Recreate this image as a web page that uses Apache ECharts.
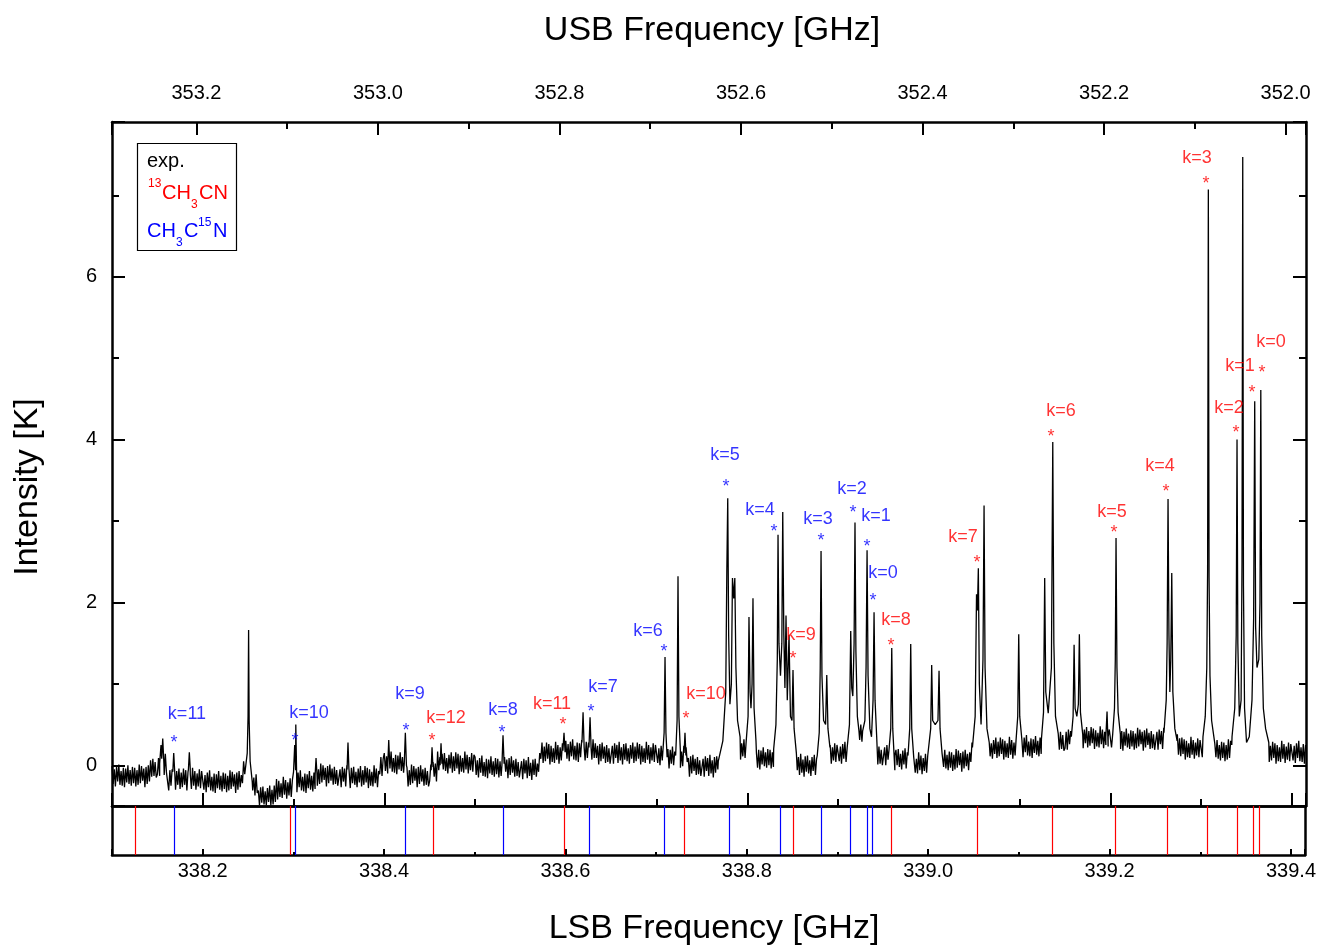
<!DOCTYPE html>
<html><head><meta charset="utf-8">
<script src="https://cdn.jsdelivr.net/npm/echarts@6/dist/echarts.min.js"></script>
<style>html,body{margin:0;padding:0;background:#fff}#c{width:1319px;height:950px}</style>
</head><body><div id="c"></div>
<script>
const LSB_MIN = 338.1, LSB_MAX = 339.4155;
const USB_SUM = 691.393; // USB = USB_SUM - LSB
const Y_MIN = -0.5, Y_MAX = 7.9;

// baseline (noise) spectrum on a uniform grid: start 338.100 GHz, step 0.00125 GHz, 40 values per row (0.05 GHz)
const gridStart = 338.1, gridStep = 0.00125;
const baselineRows = [
 [-0.01,-0.23,-0.05,-0.26,-0.02,-0.20,0.01,-0.24,-0.07,-0.25,-0.03,-0.27,-0.04,-0.21,0.00,-0.23,-0.06,-0.25,-0.02,-0.22,-0.03,-0.26,-0.06,-0.24,0.01,-0.22,-0.01,-0.19,-0.04,-0.27,-0.02,-0.23,0.00,-0.20,0.06,-0.14,0.08,-0.13,0.04,-0.15],
 [-0.11,0.09,-0.13,0.12,-0.06,0.10,-0.12,0.14,-0.09,-0.10,-0.31,-0.06,-0.25,-0.05,-0.27,-0.11,-0.30,-0.07,-0.24,-0.04,-0.29,-0.09,-0.27,-0.04,-0.24,-0.06,-0.31,-0.08,-0.28,-0.11,-0.29,-0.03,-0.25,-0.07,-0.30,-0.10,-0.26,-0.05,-0.28,-0.07],
 [-0.08,-0.30,-0.12,-0.33,-0.09,-0.27,-0.06,-0.31,-0.14,-0.32,-0.10,-0.34,-0.11,-0.28,-0.07,-0.30,-0.13,-0.32,-0.09,-0.29,-0.10,-0.33,-0.13,-0.31,-0.06,-0.29,-0.08,-0.26,-0.11,-0.34,-0.09,-0.30,-0.07,-0.27,-0.12,-0.22,0.05,-0.11,0.5,0.5],
 [0.5,0.5,0.5,0.5,-0.31,-0.15,-0.37,-0.11,-0.34,-0.31,-0.49,-0.27,-0.46,-0.26,-0.48,-0.32,-0.49,-0.28,-0.45,-0.25,-0.49,-0.30,-0.48,-0.25,-0.45,-0.17,-0.42,-0.19,-0.39,-0.22,-0.40,-0.14,-0.36,-0.18,-0.41,-0.21,-0.37,-0.16,-0.39,-0.18],
 [-0.08,0.5,0.5,-0.33,-0.09,-0.27,-0.06,-0.31,-0.14,-0.32,-0.10,-0.34,-0.11,-0.28,-0.07,-0.30,-0.13,-0.32,-0.09,-0.29,0.5,-0.25,-0.05,-0.23,0.02,-0.21,0.00,-0.18,-0.03,-0.26,-0.01,-0.22,0.01,-0.19,-0.04,-0.24,-0.02,-0.23,-0.06,-0.25],
 [-0.25,-0.05,-0.27,-0.02,-0.20,-0.04,-0.26,0.00,0.5,-0.07,-0.28,-0.03,-0.22,-0.02,-0.24,-0.08,-0.27,-0.04,-0.21,-0.01,-0.26,-0.06,-0.24,-0.01,-0.21,-0.03,-0.28,-0.05,-0.25,-0.08,-0.26,0.00,-0.22,-0.04,-0.27,-0.07,-0.11,0.10,-0.13,0.08],
 [0.15,-0.07,0.11,-0.10,0.5,-0.04,0.17,-0.08,0.09,-0.09,0.13,-0.11,0.12,-0.05,0.16,-0.07,0.10,-0.09,0.5,0.5,-0.03,-0.26,-0.06,-0.24,0.01,-0.22,-0.01,-0.19,-0.04,-0.27,-0.02,-0.23,0.00,-0.20,-0.05,-0.25,-0.03,-0.24,-0.07,-0.26],
 [-0.19,0.01,0.5,0.04,-0.14,0.02,-0.20,0.17,-0.06,0.10,0.5,0.14,-0.05,0.15,-0.07,0.09,-0.10,0.13,-0.04,0.16,-0.09,0.11,-0.07,0.16,-0.04,0.14,-0.11,0.12,-0.08,0.09,-0.09,0.17,-0.05,0.13,-0.10,0.10,-0.06,0.15,-0.08,0.13],
 [0.10,-0.12,0.06,-0.15,0.09,-0.09,0.12,-0.13,0.04,-0.14,0.08,-0.16,0.07,-0.10,0.11,-0.12,0.05,-0.14,0.09,-0.11,0.08,-0.15,0.05,-0.13,0.5,0.5,0.10,-0.08,0.07,-0.16,0.09,-0.12,0.11,-0.09,0.06,-0.14,0.08,-0.13,0.04,-0.15],
 [-0.15,0.05,-0.17,0.08,-0.10,0.06,-0.16,0.10,-0.13,0.03,-0.18,0.07,-0.12,0.08,-0.14,0.02,-0.08,0.15,0.08,0.28,0.03,0.23,0.05,0.28,0.08,0.26,0.01,0.24,0.04,0.21,0.03,0.29,0.07,0.25,0.02,0.22,0.06,0.27,0.5,0.5],
 [0.30,0.08,0.26,0.05,0.29,0.11,0.32,0.07,0.24,0.06,0.28,0.04,0.27,0.10,0.31,0.5,0.5,0.06,0.29,0.09,0.28,0.5,0.5,0.07,0.32,0.09,0.27,0.09,0.24,0.01,0.26,0.05,0.28,0.08,0.23,0.03,0.25,0.04,0.21,0.02],
 [0.04,0.24,0.02,0.27,0.09,0.25,0.03,0.29,0.06,0.22,0.01,0.26,0.07,0.27,0.05,0.21,0.02,0.25,0.08,0.28,0.03,0.23,0.05,0.28,0.08,0.26,0.01,0.24,0.04,0.21,0.03,0.29,0.07,0.25,0.02,0.22,0.06,0.27,0.04,0.25],
 [0.25,0.03,0.21,0.00,0.24,0.06,0.5,0.5,0.5,0.5,0.20,-0.04,0.19,0.02,0.23,0.00,0.17,0.5,0.5,0.5,0.5,-0.03,0.17,-0.01,0.24,0.5,0.22,0.04,0.09,-0.14,0.11,-0.10,0.13,-0.07,0.08,-0.12,0.10,-0.11,0.06,-0.13],
 [-0.12,0.08,-0.14,0.11,-0.07,0.09,-0.13,0.13,-0.10,0.06,-0.15,0.10,-0.09,0.11,-0.05,0.5,0.5,0.5,0.5,0.5,0.5,0.5,0.5,0.5,0.5,0.5,0.5,0.5,0.5,0.5,0.5,0.5,0.5,0.5,0.07,0.27,0.11,0.32,0.09,0.30],
 [0.5,0.5,0.5,0.5,0.5,0.5,0.5,0.5,0.15,-0.03,0.19,-0.05,0.18,0.01,0.22,-0.01,0.16,-0.03,0.20,0.00,0.19,-0.04,0.16,-0.02,0.5,0.5,0.5,0.5,0.5,0.5,0.5,0.5,0.5,0.5,0.5,0.5,0.5,0.5,0.5,0.5],
 [0.5,0.5,0.5,0.5,-0.06,0.10,-0.12,0.14,-0.09,0.07,-0.14,0.11,-0.08,0.12,-0.10,0.06,-0.13,0.10,-0.07,0.13,-0.12,0.08,0.5,0.5,0.5,0.5,0.5,0.5,0.5,0.5,0.5,0.5,0.5,0.25,0.02,0.22,0.06,0.27,0.04,0.25],
 [0.27,0.05,0.23,0.02,0.26,0.08,0.29,0.04,0.22,0.5,0.5,0.5,0.5,0.5,0.5,0.5,0.5,0.5,0.5,0.31,0.50,0.29,0.5,0.5,0.5,0.5,0.5,0.5,0.5,0.5,0.5,0.5,0.5,0.5,0.35,0.01,0.23,0.02,0.19,0.00],
 [0.02,0.22,0.00,0.25,0.07,0.5,0.5,0.5,0.5,0.5,-0.06,0.19,0.00,0.20,-0.02,0.14,-0.05,0.18,0.01,0.21,-0.04,0.16,0.5,0.5,0.5,0.5,0.5,0.11,-0.09,0.08,-0.10,0.16,-0.06,0.12,-0.11,0.09,-0.07,0.14,-0.09,0.12],
 [0.12,0.5,0.5,0.5,0.5,0.5,0.5,0.5,0.5,0.5,0.5,0.5,0.15,-0.02,0.19,-0.04,0.13,-0.06,0.17,-0.03,0.16,-0.07,0.13,-0.05,0.20,-0.03,0.18,0.00,0.15,-0.08,0.17,-0.04,0.19,-0.01,0.14,-0.06,0.16,0.04,0.28,0.5],
 [0.5,0.5,0.5,0.5,0.5,0.5,0.5,0.5,0.5,0.5,0.5,0.5,0.5,0.5,0.11,0.27,0.08,0.31,0.14,0.34,0.09,0.29,0.11,0.34,0.14,0.32,0.07,0.30,0.10,0.27,0.09,0.35,0.13,0.31,0.08,0.28,0.12,0.5,0.5,0.5],
 [0.5,0.5,0.31,0.10,0.34,0.16,0.37,0.12,0.29,0.11,0.33,0.09,0.32,0.15,0.36,0.13,0.30,0.11,0.34,0.14,0.5,0.5,0.5,0.5,0.5,0.5,0.5,0.5,0.5,0.5,0.5,0.5,0.5,0.5,0.39,0.19,0.41,0.20,0.37,0.18],
 [0.21,0.41,0.19,0.44,0.26,0.42,0.5,0.5,0.5,0.5,0.5,0.5,0.5,0.5,0.5,0.5,0.21,0.44,0.27,0.47,0.22,0.42,0.24,0.47,0.27,0.45,0.20,0.43,0.23,0.40,0.22,0.48,0.26,0.44,0.21,0.41,0.25,0.5,0.23,0.44],
 [0.44,0.22,0.38,0.5,0.5,0.5,0.5,0.5,0.5,0.20,0.42,0.18,0.41,0.24,0.45,0.22,0.39,0.20,0.43,0.23,0.42,0.19,0.39,0.21,0.46,0.23,0.44,0.26,0.41,0.18,0.43,0.22,0.45,0.25,0.40,0.20,0.42,0.21,0.38,0.19],
 [0.21,0.41,0.19,0.44,0.26,0.42,0.20,0.46,0.5,0.5,0.5,0.5,0.5,0.5,0.5,0.5,0.5,0.5,0.5,0.38,0.13,0.33,0.11,0.34,0.14,0.32,0.07,0.30,0.10,0.27,0.09,0.35,0.13,0.31,0.08,0.28,0.12,0.33,0.10,0.31],
 [0.32,0.10,0.5,0.5,0.5,0.5,0.5,0.5,0.5,0.5,0.5,0.5,0.27,0.10,0.31,0.08,0.25,0.06,0.29,0.09,0.28,0.05,0.25,0.07,0.32,0.09,0.30,0.25,0.5,0.5,0.5,0.5,0.5,0.5,0.5,0.5,0.5,0.5,0.5,0.5],
 [0.5,0.5,0.5,0.5,0.5,0.5,0.5,0.5,0.5,0.5,0.5,0.5,0.5,0.5,0.5,0.5,0.5,0.5,0.5,0.5,0.04,0.24,0.06,0.29,0.09,0.27,0.02,0.25,0.05,0.22,0.04,0.30,0.08,0.26,0.03,0.23,0.07,0.28,0.05,0.26],
 [0.28,0.06,0.24,0.03,0.27,0.09,0.30,0.05,0.22,0.04,0.26,0.02,0.25]
];

// line profiles [LSB GHz, K]; each group replaces the baseline over its span
const peakGroups = [
 [[338.1525,0.02],[338.1540,0.25],[338.1548,0.08],[338.1559,0.33],[338.1572,0.02]],
 [[338.1670,-0.08],[338.1680,0.15],[338.1690,-0.06]],
 [[338.1842,-0.05],[338.1852,0.16],[338.1862,-0.04]],
 [[338.2470,-0.12],[338.2490,0.15],[338.2499,0.6],[338.2505,1.66],[338.2511,0.55],[338.2522,0.05],[338.2545,-0.2]],
 [[338.3003,-0.08],[338.3013,0.25],[338.3023,-0.06]],
 [[338.3238,-0.12],[338.3248,0.09],[338.3258,-0.10]],
 [[338.3590,-0.05],[338.3600,0.28],[338.3610,-0.04]],
 [[338.4039,0.02],[338.4049,0.31],[338.4059,0.03]],
 [[338.4220,0.02],[338.4232,0.40],[338.4244,0.0]],
 [[338.4516,-0.06],[338.4526,0.22],[338.4536,-0.02]],
 [[338.4615,0.0],[338.4625,0.27],[338.4635,0.02]],
 [[338.5296,0.0],[338.5308,0.37],[338.5320,0.02]],
 [[338.5968,0.18],[338.5980,0.40],[338.5992,0.16]],
 [[338.6178,0.28],[338.6190,0.65],[338.6202,0.22]],
 [[338.6255,0.22],[338.6267,0.59],[338.6279,0.2]],
 [[338.7070,0.18],[338.7083,0.4],[338.7093,1.33],[338.7103,0.4],[338.7116,0.1]],
 [[338.7210,0.12],[338.7226,0.55],[338.7236,2.32],[338.7246,0.6],[338.7262,0.18]],
 [[338.7303,0.15],[338.7313,0.40],[338.7323,0.12]],
 [[338.7680,0.05],[338.7730,0.3],[338.7762,0.9],[338.7774,2.4],[338.7784,3.28],[338.7794,1.6],[338.7808,0.75],[338.7824,1.0],[338.7836,2.30],[338.7850,2.05],[338.7862,2.30],[338.7874,1.2],[338.7892,0.55],[338.7920,0.35]],
 [[338.7990,0.28],[338.8008,0.6],[338.8018,1.82],[338.8030,0.9],[338.8040,0.7],[338.8052,1.0],[338.8062,2.05],[338.8074,0.7],[338.8095,0.3]],
 [[338.8290,0.2],[338.8315,0.5],[338.8330,1.3],[338.8338,2.83],[338.8348,1.5],[338.8365,1.1],[338.8380,1.5],[338.8390,3.11],[338.8402,1.6],[338.8414,0.95],[338.8426,1.84],[338.8440,0.8],[338.8459,1.6],[338.8475,0.6],[338.8492,0.55],[338.8503,1.17],[338.8515,0.45],[338.8540,0.15]],
 [[338.8770,0.12],[338.8792,0.4],[338.8803,1.2],[338.8812,2.63],[338.8822,1.1],[338.8840,0.55],[338.8862,0.5],[338.8875,1.11],[338.8888,0.45],[338.8910,0.22]],
 [[338.9100,0.22],[338.9125,0.5],[338.9139,1.65],[338.9150,0.95],[338.9162,0.85],[338.9176,1.5],[338.9186,2.98],[338.9196,1.4],[338.9212,0.6],[338.9230,0.42]],
 [[338.9270,0.42],[338.9295,0.55],[338.9308,1.2],[338.9319,2.64],[338.9330,1.1],[338.9350,0.45],[338.9368,0.35],[338.9385,0.8],[338.9396,1.88],[338.9407,0.8],[338.9425,0.35]],
 [[338.9560,0.18],[338.9580,0.45],[338.9591,1.44],[338.9602,0.45],[338.9625,0.12]],
 [[338.9770,0.12],[338.9789,0.45],[338.9800,1.49],[338.9811,0.45],[338.9833,0.1]],
 [[339.0000,0.12],[339.0020,0.45],[339.0031,1.23],[339.0042,0.55],[339.0070,0.5],[339.0100,0.55],[339.0112,1.16],[339.0123,0.45],[339.0145,0.15]],
 [[339.0480,0.22],[339.0510,0.6],[339.0525,2.1],[339.0535,1.9],[339.0545,2.42],[339.0556,1.0],[339.0575,0.5],[339.0596,1.3],[339.0608,3.19],[339.0619,1.2],[339.0640,0.45],[339.0665,0.28]],
 [[339.0960,0.3],[339.0979,0.6],[339.0990,1.61],[339.1001,0.6],[339.1025,0.3]],
 [[339.1240,0.32],[339.1263,0.65],[339.1276,2.30],[339.1288,0.9],[339.1315,0.64],[339.1350,1.2],[339.1365,3.97],[339.1377,1.5],[339.1395,0.6],[339.1425,0.38]],
 [[339.1570,0.35],[339.1589,0.6],[339.1600,1.48],[339.1611,0.7],[339.1630,0.6],[339.1647,0.75],[339.1658,1.61],[339.1670,0.65],[339.1695,0.38]],
 [[339.1950,0.35],[339.1963,0.66],[339.1975,0.35]],
 [[339.2025,0.38],[339.2045,0.7],[339.2054,1.3],[339.2062,2.79],[339.2072,1.2],[339.2085,0.65],[339.2110,0.38]],
 [[339.2590,0.4],[339.2615,0.8],[339.2625,1.5],[339.2635,3.27],[339.2645,1.6],[339.2655,0.9],[339.2665,1.3],[339.2676,2.36],[339.2688,0.9],[339.2710,0.45],[339.2735,0.3]],
 [[339.3020,0.35],[339.3045,0.6],[339.3062,1.2],[339.3071,2.4],[339.3079,7.07],[339.3087,2.3],[339.3097,1.1],[339.3115,0.55],[339.3140,0.35]],
 [[339.3340,0.35],[339.3370,0.7],[339.3386,1.6],[339.3395,4.0],[339.3404,1.5],[339.3420,0.6],[339.3440,0.8],[339.3450,2.5],[339.3458,7.47],[339.3466,2.2],[339.3478,0.7],[339.3500,0.28],[339.3530,0.35],[339.3560,0.8],[339.3578,1.8],[339.3590,4.47],[339.3600,1.7],[339.3615,1.2],[339.3635,1.3],[339.3648,2.0],[339.3657,4.61],[339.3667,1.6],[339.3685,0.7],[339.3710,0.45],[339.3745,0.28]]
];

// catalogue line positions (LSB GHz)
const redSticks = [338.1256,338.2963,338.4537,338.5982,338.7311,338.8515,338.9587,339.0536,339.1363,339.2059,339.2631,339.3078,339.3405,339.3589,339.3654];
const blueSticks = [338.1686,338.3019,338.4233,338.5317,338.6266,338.7092,338.7801,338.8369,338.8821,338.9135,338.9327,338.9388];

// annotations [text, LSB GHz, K]
const blueLabels = [['k=11',338.1826,0.627],['k=10',338.3171,0.640],['k=9',338.4283,0.873],['k=8',338.5308,0.677],['k=7',338.6410,0.959],['k=6',338.6906,1.648],['k=5',338.7754,3.813],['k=4',338.8140,3.137],['k=3',338.8779,3.026],['k=2',338.9153,3.395],['k=1',338.9418,3.063],['k=0',338.9495,2.362]];
const blueStars = [[338.1683,0.332],[338.3016,0.357],[338.4239,0.480],[338.5297,0.455],[338.6278,0.713],[338.7082,1.451],[338.7765,3.481],[338.8294,2.927],[338.8812,2.817],[338.9164,3.161],[338.9318,2.743],[338.9384,2.079]];
const redLabels = [['k=12',338.4680,0.578],['k=11',338.5848,0.750],['k=10',338.7545,0.873],['k=9',338.8591,1.599],['k=8',338.9638,1.784],['k=7',339.0376,2.804],['k=6',339.1456,4.354],['k=5',339.2018,3.112],['k=4',339.2547,3.678],['k=3',339.2955,7.454],['k=2',339.3307,4.391],['k=1',339.3428,4.908],['k=0',339.3770,5.203]];
const redStars = [[338.4526,0.357],[338.5969,0.554],[338.7324,0.627],[338.8503,1.365],[338.9583,1.525],[339.0531,2.546],[339.1346,4.096],[339.2040,2.915],[339.2613,3.419],[339.3054,7.196],[339.3384,4.145],[339.3560,4.637],[339.3670,4.883]];

// ---------- build ----------
const FONT = '"Liberation Sans", Arial, Helvetica, sans-serif';
const RED = '#ff0000', BLUE = '#0000ff';
const spectrum = [];
baselineRows.flat().forEach((v, i) => {
  const f = +(gridStart + i * gridStep).toFixed(5);
  const inside = peakGroups.some(g => f > g[0][0] && f < g[g.length - 1][0]);
  if (!inside) spectrum.push([f, v]);
});
peakGroups.forEach(g => g.forEach(p => spectrum.push(p)));
spectrum.sort((a, b) => a[0] - b[0]);

const axLine = {show: true, onZero: false, lineStyle: {color: '#000', width: 2.5}};
const tickBig = {show: true, inside: true, length: 13, lineStyle: {color: '#000', width: 2}};
const minorBig = {show: true, splitNumber: 2, length: 7, lineStyle: {color: '#000', width: 2}};
const lblStyle = {color: '#000', fontSize: 20, fontFamily: FONT};
const fmt1 = v => v.toFixed(1);

function textSeries(list, color, star) {
  return {
    type: 'scatter', xAxisIndex: 0, yAxisIndex: 0, silent: true, z: 5,
    symbol: 'circle', symbolSize: 0.1, itemStyle: {color: 'rgba(0,0,0,0)'},
    data: list.map(d => star ? {name: '*', value: d} : {name: d[0], value: [d[1], d[2]]}),
    label: {show: true, position: 'inside', formatter: p => p.name, color: color,
            fontSize: 18, fontFamily: FONT, align: 'center', verticalAlign: 'middle',
            offset: star ? [0, 5] : [0, 0]}
  };
}
function stickSeries(list, color) {
  return {
    type: 'line', xAxisIndex: 2, yAxisIndex: 2, data: [], silent: true,
    markLine: {symbol: ['none', 'none'], silent: true, precision: 6, label: {show: false},
      lineStyle: {color: color, width: 1.2, type: 'solid'},
      data: list.map(f => [{coord: [f, 0]}, {coord: [f, 1]}])}
  };
}

const chart = echarts.init(document.getElementById('c'), null, {renderer: 'canvas', width: 1319, height: 950});
chart.setOption({
  animation: false,
  backgroundColor: '#fff',
  grid: [
    {left: 112, top: 122, width: 1194, height: 684},
    {left: 112, top: 806, width: 1194, height: 49}
  ],
  xAxis: [
    {gridIndex: 0, type: 'value', position: 'bottom', min: LSB_MIN, max: LSB_MAX, splitNumber: 7,
     axisLine: axLine, axisTick: tickBig, minorTick: minorBig, axisLabel: {show: false}, splitLine: {show: false}},
    {gridIndex: 0, type: 'value', position: 'top', inverse: true, min: USB_SUM - LSB_MAX, max: USB_SUM - LSB_MIN, splitNumber: 7,
     axisLine: axLine, axisTick: tickBig, minorTick: minorBig,
     axisLabel: Object.assign({show: true, showMinLabel: false, showMaxLabel: false, margin: 19, formatter: fmt1}, lblStyle),
     splitLine: {show: false}},
    {gridIndex: 1, type: 'value', position: 'bottom', min: LSB_MIN, max: LSB_MAX, splitNumber: 7,
     axisLine: axLine, axisTick: {show: true, inside: true, length: 6, lineStyle: {color: '#000', width: 2}},
     minorTick: {show: true, splitNumber: 2, length: 3, lineStyle: {color: '#000', width: 2}},
     axisLabel: Object.assign({show: true, showMinLabel: false, showMaxLabel: false, margin: 6, formatter: fmt1}, lblStyle),
     splitLine: {show: false}},
    {gridIndex: 1, type: 'value', position: 'top', min: LSB_MIN, max: LSB_MAX,
     axisLine: axLine, axisTick: {show: false}, axisLabel: {show: false}, splitLine: {show: false}}
  ],
  yAxis: [
    {gridIndex: 0, type: 'value', position: 'left', min: Y_MIN, max: Y_MAX, splitNumber: 4,
     axisLine: axLine, axisTick: tickBig, minorTick: minorBig,
     axisLabel: Object.assign({show: true, showMinLabel: false, showMaxLabel: false, margin: 15, formatter: v => String(v)}, lblStyle),
     splitLine: {show: false}},
    {gridIndex: 0, type: 'value', position: 'right', min: Y_MIN, max: Y_MAX, splitNumber: 4,
     axisLine: axLine, axisTick: tickBig, minorTick: minorBig, axisLabel: {show: false}, splitLine: {show: false}},
    {gridIndex: 1, type: 'value', position: 'left', min: 0, max: 1,
     axisLine: axLine, axisTick: {show: false}, axisLabel: {show: false}, splitLine: {show: false}},
    {gridIndex: 1, type: 'value', position: 'right', min: 0, max: 1,
     axisLine: axLine, axisTick: {show: false}, axisLabel: {show: false}, splitLine: {show: false}}
  ],
  series: [
    {type: 'line', xAxisIndex: 0, yAxisIndex: 0, data: spectrum, showSymbol: false, symbol: 'none',
     sampling: null, lineStyle: {color: '#000', width: 1.3}, silent: true, z: 3},
    stickSeries(redSticks, RED),
    stickSeries(blueSticks, BLUE),
    textSeries(blueLabels, BLUE, false),
    textSeries(blueStars, BLUE, true),
    textSeries(redLabels, RED, false),
    textSeries(redStars, RED, true)
  ],
  graphic: [
    {type: 'text', x: 712, y: 31, style: {text: 'USB Frequency [GHz]', fill: '#000', font: '34px ' + FONT, align: 'center', verticalAlign: 'middle', textAlign: 'center', textVerticalAlign: 'middle'}},
    {type: 'text', x: 714, y: 929, style: {text: 'LSB Frequency [GHz]', fill: '#000', font: '34px ' + FONT, align: 'center', verticalAlign: 'middle', textAlign: 'center', textVerticalAlign: 'middle'}},
    {type: 'text', x: 28, y: 487, rotation: Math.PI / 2, style: {text: 'Intensity [K]', fill: '#000', font: '34px ' + FONT, align: 'center', verticalAlign: 'middle', textAlign: 'center', textVerticalAlign: 'middle'}},
    {type: 'rect', shape: {x: 137.5, y: 143.5, width: 99, height: 107}, style: {fill: '#fff', stroke: '#000', lineWidth: 1.2}, z: 10},
    {type: 'text', x: 147, y: 161, z: 11, style: {text: 'exp.', fill: '#000', font: '20px ' + FONT, align: 'left', verticalAlign: 'middle'}},
    {type: 'text', x: 148, y: 184, z: 11, style: {text: '13', fill: RED, font: '12px ' + FONT, align: 'left', verticalAlign: 'middle'}},
    {type: 'text', x: 162, y: 193, z: 11, style: {text: 'CH', fill: RED, font: '20px ' + FONT, align: 'left', verticalAlign: 'middle'}},
    {type: 'text', x: 191, y: 205, z: 11, style: {text: '3', fill: RED, font: '12px ' + FONT, align: 'left', verticalAlign: 'middle'}},
    {type: 'text', x: 199, y: 193, z: 11, style: {text: 'CN', fill: RED, font: '20px ' + FONT, align: 'left', verticalAlign: 'middle'}},
    {type: 'text', x: 147, y: 231, z: 11, style: {text: 'CH', fill: BLUE, font: '20px ' + FONT, align: 'left', verticalAlign: 'middle'}},
    {type: 'text', x: 176, y: 243, z: 11, style: {text: '3', fill: BLUE, font: '12px ' + FONT, align: 'left', verticalAlign: 'middle'}},
    {type: 'text', x: 184, y: 231, z: 11, style: {text: 'C', fill: BLUE, font: '20px ' + FONT, align: 'left', verticalAlign: 'middle'}},
    {type: 'text', x: 198, y: 223, z: 11, style: {text: '15', fill: BLUE, font: '12px ' + FONT, align: 'left', verticalAlign: 'middle'}},
    {type: 'text', x: 213, y: 231, z: 11, style: {text: 'N', fill: BLUE, font: '20px ' + FONT, align: 'left', verticalAlign: 'middle'}}
  ]
});
</script>
</body></html>
